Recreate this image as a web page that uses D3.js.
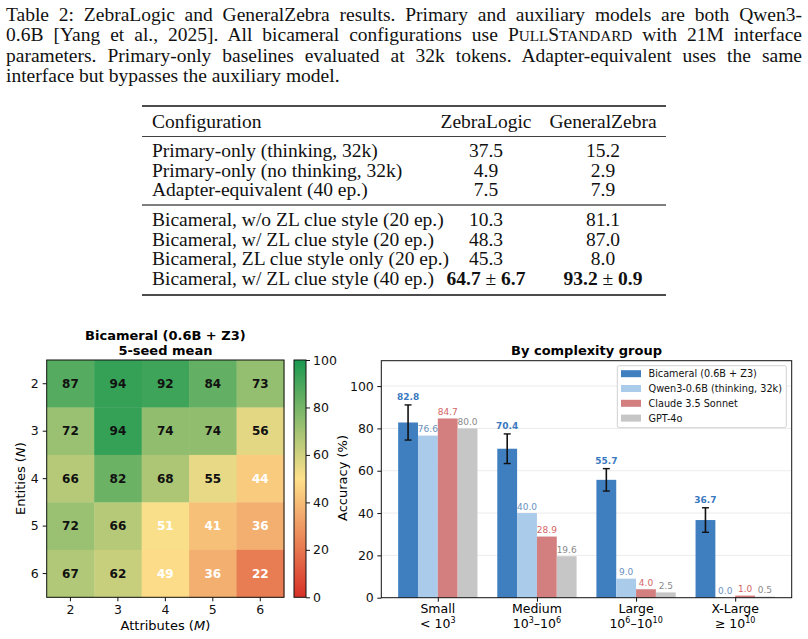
<!DOCTYPE html>
<html>
<head>
<meta charset="utf-8">
<script src="https://cdn.jsdelivr.net/npm/d3@7"></script>
<style>
  body { margin: 0; background: #fff; }
  svg { display: block; }
</style>
</head>
<body>
<svg id="fig"></svg>
<script>
// ---- caption (segments: [text, "sc" for small caps]) ----
var captionLines = [
  [["Table 2: ZebraLogic and GeneralZebra results. Primary and auxiliary models are both Qwen3-"]],
  [["0.6B [Yang et al., 2025]. All bicameral configurations use "], ["P"], ["ULL", "sc"], ["S"], ["TANDARD", "sc"], [" with 21M interface"]],
  [["parameters. Primary-only baselines evaluated at 32k tokens. Adapter-equivalent uses the same"]],
  [["interface but bypasses the auxiliary model."]]
]

// ---- table ----
var tableHeader = ["Configuration", "ZebraLogic", "GeneralZebra"]
var configs = [
  "Primary-only (thinking, 32k)",
  "Primary-only (no thinking, 32k)",
  "Adapter-equivalent (40 ep.)",
  "Bicameral, w/o ZL clue style (20 ep.)",
  "Bicameral, w/ ZL clue style (20 ep.)",
  "Bicameral, ZL clue style only (20 ep.)",
  "Bicameral, w/ ZL clue style (40 ep.)"
]
var zebraLogic = ["37.5", "4.9", "7.5", "10.3", "48.3", "45.3", "64.7"]
var zebraLogicErr = [null, null, null, null, null, null, "6.7"]
var generalZebra = ["15.2", "2.9", "7.9", "81.1", "87.0", "8.0", "93.2"]
var generalZebraErr = [null, null, null, null, null, null, "0.9"]

// ---- heatmap ----
var entities = [2, 3, 4, 5, 6]
var attributes = [2, 3, 4, 5, 6]
var heat = [
  [87, 94, 92, 84, 73],
  [72, 94, 74, 74, 56],
  [66, 82, 68, 55, 44],
  [72, 66, 51, 41, 36],
  [67, 62, 49, 36, 22]
]
var colorbarTicks = [0, 20, 40, 60, 80, 100]

// ---- bars ----
var groups = ["Small", "Medium", "Large", "X-Large"]
var groupSub = [["< 10", "3"], ["10", "3", "\u201310", "6"], ["10", "6", "\u201310", "10"], ["\u2265 10", "10"]]
var seriesNames = ["Bicameral (0.6B + Z3)", "Qwen3-0.6B (thinking, 32k)", "Claude 3.5 Sonnet", "GPT-4o"]
var bicameral = [82.8, 70.4, 55.7, 36.7]
var bicameralErr = [8.3, 7.0, 5.3, 5.8]
var qwen = [76.6, 40.0, 9.0, 0.0]
var claude = [84.7, 28.9, 4.0, 1.0]
var gpt = [80.0, 19.6, 2.5, 0.5]
var accTicks = [0, 20, 40, 60, 80, 100]

var barColors = ["#3f7fbf", "#abcbea", "#d47f7f", "#c6c6c6"]
var labelColors = ["#3a78c0", "#6a92c0", "#d46565", "#8a8a8a"]

var svg = d3.select("#fig").attr("width", 808).attr("height", 639)
    .attr("font-family", "DejaVu Sans")

// ================= caption =================
var capSize = 19.5
var capBase = [20.5, 41, 61.5, 82]
captionLines.forEach(function(segs, i) {
  var t = svg.append("text")
      .attr("x", 6)
      .attr("y", capBase[i])
      .attr("font-family", "Liberation Serif")
      .attr("font-size", capSize)
      .attr("fill", "#111")
  segs.forEach(function(s) {
    t.append("tspan").text(s[0]).attr("font-size", s[1] === "sc" ? capSize * 0.78 : capSize)
  })
  if (i < 3) {
    var natural = t.node().getComputedTextLength()
    var spaces = segs.map(function(s) { return s[0] }).join("").split(" ").length - 1
    t.style("word-spacing", ((802 - 6 - natural) / spaces) + "px")
  }
})

// ================= table =================
var tbl = svg.append("g").attr("font-family", "Liberation Serif").attr("font-size", capSize).attr("fill", "#111")
var tblX0 = 142, tblX1 = 666
var colX = [152, 486, 603]
var headBase = 128
var rowBase = [157, 176.5, 196, 226, 245.5, 265, 284.5]

function rule(y, w, c) {
  tbl.append("line").attr("x1", tblX0).attr("x2", tblX1).attr("y1", y).attr("y2", y)
      .attr("stroke", c || "#111").attr("stroke-width", w)
}
rule(106, 1.4)
rule(136.5, 0.8)
rule(205, 1.3, "#555")
rule(295, 1.5)

tableHeader.forEach(function(h, j) {
  tbl.append("text").text(h).attr("x", colX[j]).attr("y", headBase)
      .attr("text-anchor", j === 0 ? "start" : "middle")
})
configs.forEach(function(c, i) {
  tbl.append("text").text(c).attr("x", colX[0]).attr("y", rowBase[i])
  ;[[zebraLogic, zebraLogicErr], [generalZebra, generalZebraErr]].forEach(function(col, j) {
    var t = tbl.append("text").attr("x", colX[j + 1]).attr("y", rowBase[i]).attr("text-anchor", "middle")
    if (col[1][i]) {
      t.append("tspan").text(col[0][i]).attr("font-weight", "bold")
      t.append("tspan").text(" \u00b1 ")
      t.append("tspan").text(col[1][i]).attr("font-weight", "bold")
    } else {
      t.text(col[0][i])
    }
  })
})

// ================= heatmap =================
var hm = svg.append("g")
var hx = d3.scaleBand().domain(attributes).range([46.7, 284])
var hy = d3.scaleBand().domain(entities).range([360, 597.3])
var hColor = d3.scaleLinear().domain([0, 50, 100]).range(["#d73027", "#fee08b", "#1a9850"])

heat.forEach(function(row, i) {
  row.forEach(function(v, j) {
    hm.append("rect")
        .attr("x", hx(attributes[j])).attr("y", hy(entities[i]))
        .attr("width", hx.bandwidth() + 0.4).attr("height", hy.bandwidth() + 0.4)
        .attr("fill", hColor(v))
    hm.append("text").text(v)
        .attr("x", hx(attributes[j]) + hx.bandwidth() / 2)
        .attr("y", hy(entities[i]) + hy.bandwidth() / 2 + 4.3)
        .attr("text-anchor", "middle")
        .attr("font-size", 12).attr("font-weight", "bold")
        .attr("fill", v < 53 ? "#fff" : "#111")
  })
})
hm.append("rect").attr("x", 46.7).attr("y", 360).attr("width", 284 - 46.7).attr("height", 237.3)
    .attr("fill", "none").attr("stroke", "#111").attr("stroke-width", 1)

var hxAxis = hm.append("g").attr("transform", "translate(0,597.3)")
    .call(d3.axisBottom(hx).tickSize(4).tickPadding(4))
var hyAxis = hm.append("g").attr("transform", "translate(46.7,0)")
    .call(d3.axisLeft(hy).tickSize(4).tickPadding(4))
;[hxAxis, hyAxis].forEach(function(a) {
  a.select(".domain").remove()
  a.selectAll("text").attr("font-size", 12.5).attr("font-family", "DejaVu Sans").attr("fill", "#111")
  a.selectAll("line").attr("stroke", "#111")
})

hm.append("text").text("Bicameral (0.6B + Z3)").attr("x", 165.4).attr("y", 339.5)
    .attr("text-anchor", "middle").attr("font-weight", "bold").attr("font-size", 13)
hm.append("text").text("5-seed mean").attr("x", 165.4).attr("y", 354.5)
    .attr("text-anchor", "middle").attr("font-weight", "bold").attr("font-size", 13)

var xl = hm.append("text").attr("x", 165.4).attr("y", 630).attr("text-anchor", "middle").attr("font-size", 13)
xl.append("tspan").text("Attributes (")
xl.append("tspan").text("M").attr("font-style", "italic")
xl.append("tspan").text(")")
var yl = hm.append("text").attr("transform", "translate(25,478.6) rotate(-90)").attr("text-anchor", "middle").attr("font-size", 13)
yl.append("tspan").text("Entities (")
yl.append("tspan").text("N").attr("font-style", "italic")
yl.append("tspan").text(")")

// colorbar
var cbX = 294, cbW = 12
var cy = d3.scaleLinear().domain([0, 100]).range([597.3, 360])
var grad = svg.append("defs").append("linearGradient").attr("id", "cbgrad")
    .attr("x1", 0).attr("x2", 0).attr("y1", 1).attr("y2", 0)
;[0, 50, 100].forEach(function(v) {
  grad.append("stop").attr("offset", v / 100).attr("stop-color", hColor(v))
})
hm.append("rect").attr("x", cbX).attr("y", 360).attr("width", cbW).attr("height", 237.3)
    .attr("fill", "url(#cbgrad)").attr("stroke", "#111").attr("stroke-width", 1)
var cbAxis = hm.append("g").attr("transform", "translate(" + (cbX + cbW) + ",0)")
    .call(d3.axisRight(cy).tickValues(colorbarTicks).tickSize(4).tickPadding(3))
cbAxis.select(".domain").remove()
cbAxis.selectAll("text").attr("font-size", 12.5).attr("font-family", "DejaVu Sans").attr("fill", "#111")
cbAxis.selectAll("line").attr("stroke", "#111")

// ================= grouped bars =================
var bc = svg.append("g")
var bx = d3.scaleLinear().domain([-0.57, 3.57]).range([381.3, 791.7])
var by = d3.scaleLinear().domain([0, 112]).range([597.7, 360.7])
var series = [bicameral, qwen, claude, gpt]
var bw = 0.2

// grid
bc.selectAll(".grid").data(accTicks.slice(1)).join("line")
    .attr("x1", 381.3).attr("x2", 791.7)
    .attr("y1", function(d) { return by(d) }).attr("y2", function(d) { return by(d) })
    .attr("stroke", "#ececec").attr("stroke-width", 1)

series.forEach(function(vals, s) {
  bc.selectAll(".bar" + s).data(vals).join("rect")
      .attr("x", function(d, i) { return bx(i + (s - 2) * bw) })
      .attr("width", bx(bw) - bx(0))
      .attr("y", function(d) { return by(d) })
      .attr("height", function(d) { return by(0) - by(d) })
      .attr("fill", barColors[s])
})

// error bars
bicameral.forEach(function(v, i) {
  var cx = bx(i - 1.5 * bw)
  var e = bicameralErr[i]
  bc.append("line").attr("x1", cx).attr("x2", cx).attr("y1", by(v - e)).attr("y2", by(v + e))
      .attr("stroke", "#111").attr("stroke-width", 1.6)
  ;[v - e, v + e].forEach(function(y) {
    bc.append("line").attr("x1", cx - 3.5).attr("x2", cx + 3.5).attr("y1", by(y)).attr("y2", by(y))
        .attr("stroke", "#111").attr("stroke-width", 1.4)
  })
})

// value labels
series.forEach(function(vals, s) {
  vals.forEach(function(v, i) {
    var top = s === 0 ? v + bicameralErr[i] : v
    bc.append("text").text(v.toFixed(1))
        .attr("x", bx(i + (s - 1.5) * bw))
        .attr("y", by(top) - (s === 0 ? 5 : 3.5))
        .attr("text-anchor", "middle")
        .attr("font-size", 9)
        .attr("font-weight", s === 0 ? "bold" : "normal")
        .attr("fill", labelColors[s])
  })
})

// frame
bc.append("rect").attr("x", 381.3).attr("y", 360.7).attr("width", 791.7 - 381.3).attr("height", 597.7 - 360.7)
    .attr("fill", "none").attr("stroke", "#111").attr("stroke-width", 1)

var byAxis = bc.append("g").attr("transform", "translate(381.3,0)")
    .call(d3.axisLeft(by).tickValues(accTicks).tickSize(4).tickPadding(3.5))
byAxis.select(".domain").remove()
byAxis.selectAll("text").attr("font-size", 12.5).attr("font-family", "DejaVu Sans").attr("fill", "#111")
byAxis.selectAll("line").attr("stroke", "#111")

var bxAxis = bc.append("g").attr("transform", "translate(0,597.7)")
    .call(d3.axisBottom(bx).tickValues([0, 1, 2, 3]).tickSize(4).tickFormat(""))
bxAxis.select(".domain").remove()
bxAxis.selectAll("line").attr("stroke", "#111")

groups.forEach(function(g, i) {
  bc.append("text").text(g).attr("x", bx(i)).attr("y", 613)
      .attr("text-anchor", "middle").attr("font-size", 12.5)
  var t = bc.append("text").attr("x", bx(i)).attr("y", 627.5)
      .attr("text-anchor", "middle").attr("font-size", 12.5)
  groupSub[i].forEach(function(part, k) {
    var sup = k % 2 === 1
    t.append("tspan").text(part)
        .attr("font-size", sup ? 8 : 12.5)
        .attr("dy", sup ? -4.5 : (k > 0 ? 4.5 : 0))
  })
})

bc.append("text").text("By complexity group").attr("x", 586.5).attr("y", 355)
    .attr("text-anchor", "middle").attr("font-weight", "bold").attr("font-size", 13)
bc.append("text").text("Accuracy (%)").attr("transform", "translate(347,478) rotate(-90)")
    .attr("text-anchor", "middle").attr("font-size", 13)

// legend
var lg = bc.append("g")
lg.append("rect").attr("x", 617.3).attr("y", 365.7).attr("width", 169).attr("height", 62).attr("rx", 2)
    .attr("fill", "#fff").attr("stroke", "#d0d0d0").attr("stroke-width", 1)
seriesNames.forEach(function(n, s) {
  var yy = 373.7 + s * 14.8
  lg.append("rect").attr("x", 621).attr("y", yy - 3.5).attr("width", 20).attr("height", 7).attr("fill", barColors[s])
  lg.append("text").text(n).attr("x", 648.5).attr("y", yy + 3.4).attr("font-size", 9.7).attr("fill", "#111")
})
</script>
</body>
</html>
